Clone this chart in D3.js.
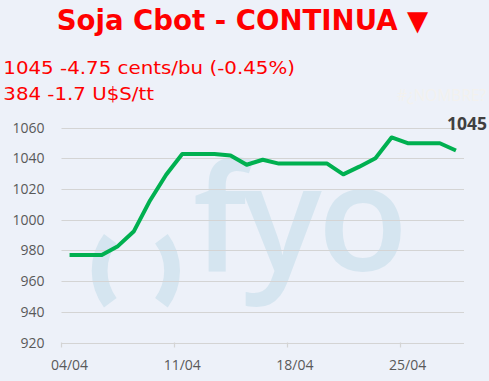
<!DOCTYPE html>
<html><head><meta charset="utf-8">
<script src="https://cdn.jsdelivr.net/npm/d3@7"></script>
<style>html,body{margin:0;padding:0;background:#edf1f9;}svg{display:block;}</style>
</head><body>
<svg id="c" width="489" height="381"></svg>
<script>
const titleText = "Soja Cbot - CONTINUA ▼";
const subLines = ["1045 -4.75 cents/bu (-0.45%)", "384 -1.7 U$S/tt"];
const dates = ["04/04","05/04","06/04","07/04","08/04","09/04","10/04","11/04","12/04","13/04","14/04","15/04","16/04","17/04","18/04","19/04","20/04","21/04","22/04","23/04","24/04","25/04","26/04","27/04","28/04"];
const prices = [977,977,977,982.75,992.5,1012.5,1029.25,1042.75,1042.75,1042.75,1041.75,1035.75,1039,1036.5,1036.5,1036.5,1036.5,1029.5,1034.5,1040,1053.5,1049.75,1049.75,1049.75,1045];
const yTicks = [920,940,960,980,1000,1020,1040,1060];
const xTickLabels = ["04/04","11/04","18/04","25/04"];
const lastLabel = "1045";
const ghostText = "#¿NOMBRE?";

const svg = d3.select("#c");
const W = 489, H = 381;
svg.append("rect").attr("width", W).attr("height", H).attr("fill", "#edf1f9");

const x = d3.scaleBand().domain(dates).range([61.5, 464]).paddingInner(0).paddingOuter(0);
const y = d3.scaleLinear().domain([920, 1060]).range([342.5, 127.5]);

// watermark
const wm = svg.append("g").attr("fill", "#d5e5f0");
const arc = d3.arc().innerRadius(45.2).outerRadius(61);
wm.append("path").attr("transform", "translate(152.7,270.7)")
  .attr("d", arc({startAngle: -Math.PI*127/180, endAngle: -Math.PI*53/180}));
wm.append("path").attr("transform", "translate(119,270.7)")
  .attr("d", arc({startAngle: Math.PI*53/180, endAngle: Math.PI*127/180}));
wm.append("text").attr("x", 193).attr("y", 271)
  .attr("font-family", "Open Sans").attr("font-weight", 600).attr("font-size", 148)
  .attr("letter-spacing", -4)
  .text("fyo");

// gridlines
svg.append("g").selectAll("line").data(yTicks).join("line")
  .attr("x1", 61.5).attr("x2", 464)
  .attr("y1", d => Math.round(y(d)) + 0.5).attr("y2", d => Math.round(y(d)) + 0.5)
  .attr("stroke", "#d4d4d4").attr("stroke-width", 1.2);

// y labels
svg.append("g").selectAll("text").data(yTicks).join("text")
  .attr("x", 44.5).attr("y", d => y(d)).attr("dy", "0.36em")
  .attr("text-anchor", "end")
  .attr("font-family", "Open Sans").attr("font-size", 14).attr("fill", "#595959")
  .text(d => d);

// x axis ticks
const tickG = svg.append("g");
tickG.selectAll("line").data(xTickLabels).join("line")
  .attr("x1", d => Math.round(x(d)) + 0.5).attr("x2", d => Math.round(x(d)) + 0.5)
  .attr("y1", y(920)).attr("y2", y(920) + 5)
  .attr("stroke", "#d4d4d4").attr("stroke-width", 1.2);
tickG.selectAll("text").data(xTickLabels).join("text")
  .attr("x", d => x(d) + x.bandwidth()/2).attr("y", 370)
  .attr("text-anchor", "middle")
  .attr("font-family", "Open Sans").attr("font-size", 14).attr("fill", "#595959")
  .text(d => d);

// line
const line = d3.line().x((d, i) => x(dates[i]) + x.bandwidth()/2).y(d => y(d));
svg.append("path").datum(prices).attr("d", line)
  .attr("fill", "none").attr("stroke", "#00b050").attr("stroke-width", 4)
  .attr("stroke-linejoin", "round").attr("stroke-linecap", "butt");

// last label
svg.append("text").attr("x", 487).attr("y", 130).attr("text-anchor", "end")
  .attr("font-family", "Open Sans").attr("font-weight", 700).attr("font-size", 17.5)
  .attr("fill", "#404040").text(lastLabel);

// ghost text
svg.append("text").attr("x", 397).attr("y", 101)
  .attr("font-family", "Open Sans").attr("font-size", 15.5).attr("fill", "#f3f1ee")
  .text(ghostText);

// title
svg.append("text").attr("x", 56.7).attr("y", 29.5)
  .attr("font-family", "DejaVu Sans").attr("font-weight", 700).attr("font-size", 27.5)
  .attr("textLength", 371.6).attr("lengthAdjust", "spacingAndGlyphs")
  .attr("fill", "#ff0000").text(titleText);

// sub lines
const subLen = [291.7, 150.7];
svg.append("g").selectAll("text").data(subLines).join("text")
  .attr("x", 3.3).attr("y", (d, i) => 73.5 + i * 26.5)
  .attr("font-family", "DejaVu Sans").attr("font-size", 18.3).attr("fill", "#ff0000")
  .attr("textLength", (d, i) => subLen[i]).attr("lengthAdjust", "spacingAndGlyphs")
  .text(d => d);
</script>
</body></html>
